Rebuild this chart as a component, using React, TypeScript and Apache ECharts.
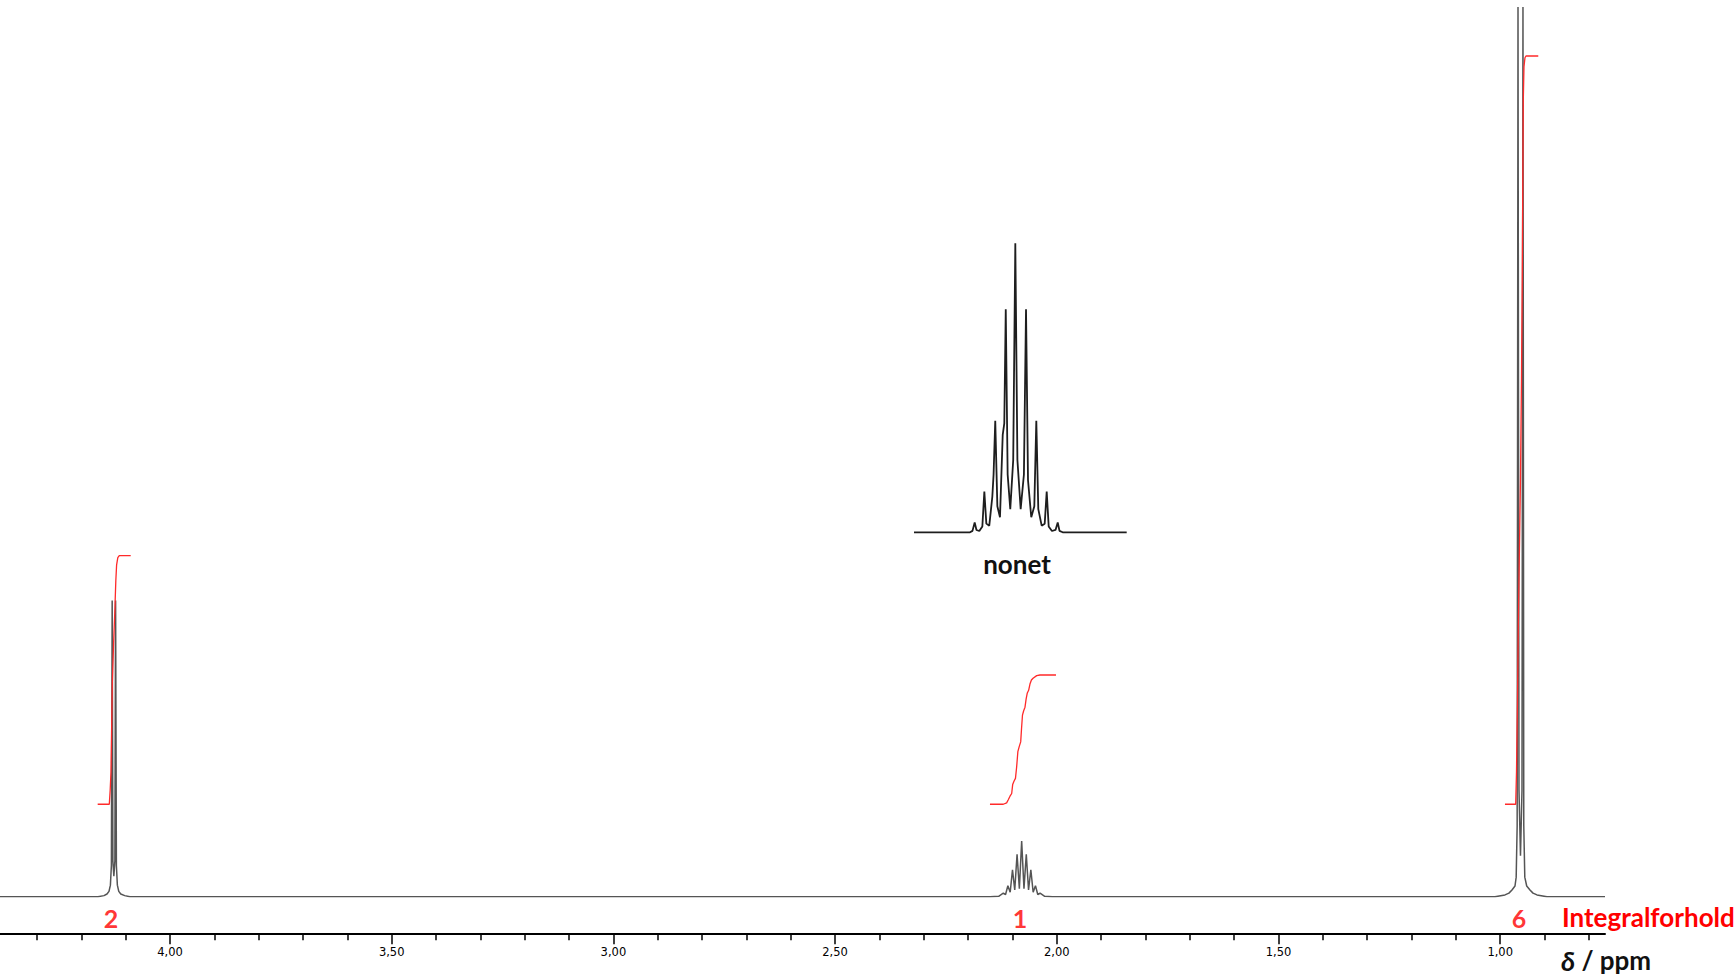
import React, { useEffect, useRef } from "react";
import * as echarts from "echarts";

// ---- axis ----
const ppmMin = 0.7636;
const ppmMax = 4.3834;
const majorTicks = [4.0, 3.5, 3.0, 2.5, 2.0, 1.5, 1.0];
const minorTicks = [
  4.3, 4.2, 4.1, 3.9, 3.8, 3.7, 3.6, 3.4, 3.3, 3.2, 3.1, 2.9, 2.8, 2.7, 2.6,
  2.4, 2.3, 2.2, 2.1, 1.9, 1.8, 1.7, 1.6, 1.4, 1.3, 1.2, 1.1, 0.9, 0.8,
];

// ---- main 1H spectrum (ppm, intensity) ----
const spectrum: [number, number][] = [
  [4.3834, 0],
  // OCH2 doublet
  [4.1624, 0],
  [4.1489, 0.12],
  [4.1421, 0.3],
  [4.1376, 0.6],
  [4.1344, 1.3],
  [4.1322, 3.5],
  [4.1304, 33.3],
  [4.1288, 4],
  [4.1266, 2.3],
  [4.1243, 4],
  [4.1227, 33.3],
  [4.1209, 3.5],
  [4.1187, 1.3],
  [4.1155, 0.6],
  [4.111, 0.3],
  [4.1021, 0.12],
  [4.0904, 0],
  // CH nonet
  [2.15, 0],
  [2.1311, 0.05],
  [2.1207, 0.39],
  [2.1155, 0.25],
  [2.1103, 1.24],
  [2.1051, 0.5],
  [2.0999, 3.03],
  [2.0948, 0.75],
  [2.0896, 4.77],
  [2.0844, 0.9],
  [2.0792, 6.26],
  [2.074, 0.9],
  [2.0688, 4.77],
  [2.0637, 0.75],
  [2.0585, 3.03],
  [2.0533, 0.5],
  [2.0481, 1.24],
  [2.0429, 0.25],
  [2.0377, 0.39],
  [2.0273, 0.05],
  [2.01, 0],
  // CH3 doublet
  [1.0117, 0],
  [0.9892, 0.2],
  [0.9802, 0.4],
  [0.9734, 0.75],
  [0.9666, 1.2],
  [0.9639, 2.2],
  [0.9617, 8],
  [0.9598, 100],
  [0.9576, 12],
  [0.9542, 4.6],
  [0.9508, 12],
  [0.9486, 100],
  [0.9468, 8],
  [0.9445, 2.2],
  [0.9402, 1.2],
  [0.9328, 0.75],
  [0.926, 0.4],
  [0.917, 0.2],
  [0.8945, 0],
  [0.7636, 0],
];

// ---- integral curves ----
const integralA: [number, number][] = [
  [4.1631, 10.39],
  [4.1369, 10.39],
  [4.1349, 12],
  [4.1331, 14],
  [4.1301, 24.0],
  [4.1272, 28.5],
  [4.1245, 32],
  [4.1222, 35.5],
  [4.1204, 37.3],
  [4.1177, 38.1],
  [4.1144, 38.33],
  [4.0886, 38.33],
];
const integralB: [number, number][] = [
  [2.1507, 10.39],
  [2.1207, 10.39],
  [2.1131, 10.55],
  [2.1094, 10.9],
  [2.1055, 11.3],
  [2.1017, 11.6],
  [2.0995, 12.6],
  [2.0963, 13.0],
  [2.0932, 13.3],
  [2.0905, 14.6],
  [2.0878, 16.3],
  [2.0846, 16.9],
  [2.0814, 17.4],
  [2.0795, 18.9],
  [2.0774, 20.4],
  [2.0747, 20.9],
  [2.0717, 21.3],
  [2.0692, 22.2],
  [2.0665, 22.9],
  [2.0635, 23.2],
  [2.0605, 23.9],
  [2.0572, 24.35],
  [2.0535, 24.55],
  [2.0453, 24.85],
  [2.0379, 24.92],
  [2.0018, 24.92],
];
const integralC: [number, number][] = [
  [0.9892, 10.39],
  [0.965, 10.39],
  [0.9632, 14],
  [0.961, 22],
  [0.9592, 30],
  [0.9569, 38],
  [0.9542, 47],
  [0.952, 58],
  [0.9502, 70],
  [0.9488, 82],
  [0.9479, 89.5],
  [0.9463, 93.3],
  [0.9441, 94.3],
  [0.9418, 94.49],
  [0.9141, 94.49],
];

// integral ratio labels
const integralValues = ["2", "1", "6"];
const integralLabelPpm = [4.1331, 2.083, 0.9576];
const integralLabelLevel = -2.39;

// ---- inset: expanded nonet (ppm, relative intensity) ----
const insetMin = 1.9731;
const insetMax = 2.1757;
const nonetInset: [number, number][] = [
  [2.1757, 0],
  [2.1223, 0],
  [2.12, 0.5],
  [2.1179, 3.4],
  [2.1162, 0.8],
  [2.1135, 0.45],
  [2.1106, 2],
  [2.1087, 14.1],
  [2.1068, 3],
  [2.104, 2.3],
  [2.1011, 12.3],
  [2.0999, 20],
  [2.0983, 38.6],
  [2.0963, 9],
  [2.0938, 5.2],
  [2.0912, 33.7],
  [2.0897, 37.7],
  [2.0883, 77.2],
  [2.0865, 20],
  [2.084, 8],
  [2.0812, 25],
  [2.0792, 100],
  [2.0772, 25],
  [2.0741, 8],
  [2.071, 20],
  [2.069, 77.2],
  [2.0671, 18],
  [2.064, 5.2],
  [2.0611, 9],
  [2.0592, 38.6],
  [2.0573, 8],
  [2.0541, 2.3],
  [2.0512, 3],
  [2.0493, 14.1],
  [2.0474, 2],
  [2.0443, 0.45],
  [2.0409, 0.8],
  [2.0388, 3.4],
  [2.0371, 0.5],
  [2.0341, 0],
  [1.9731, 0],
];

const RED = "#ff2a2a";
const LABEL_RED = "#ff0000";

export default function App() {
  const ref = useRef<HTMLDivElement>(null);
  useEffect(() => {
    if (!ref.current) return;
    const chart = echarts.init(ref.current, undefined, { renderer: "svg" });
    const fmt = (v: number) => v.toFixed(2).replace(".", ",");
    const axisOffset = 36.6;
    chart.setOption({
      animation: false,
      backgroundColor: "#ffffff",
      grid: [
        { left: 0, right: 130, top: 7, bottom: 82.3, containLabel: false },
        { left: 914, width: 212.7, top: 243.3, bottom: 446.7, containLabel: false },
      ],
      xAxis: [
        {
          gridIndex: 0,
          type: "value",
          inverse: true,
          min: ppmMin,
          max: ppmMax,
          position: "bottom",
          offset: axisOffset,
          axisLine: { show: true, onZero: false, lineStyle: { color: "#000", width: 2 } },
          axisTick: {
            show: true,
            length: 11,
            customValues: majorTicks,
            lineStyle: { color: "#000", width: 1.5 },
          },
          axisLabel: {
            show: true,
            customValues: majorTicks,
            formatter: fmt,
            fontFamily: "DejaVu Sans",
            fontSize: 11.5,
            color: "#000",
            margin: 13,
          },
          splitLine: { show: false },
        },
        {
          gridIndex: 0,
          type: "value",
          inverse: true,
          min: ppmMin,
          max: ppmMax,
          position: "bottom",
          offset: axisOffset,
          axisLine: { show: false, onZero: false },
          axisTick: {
            show: true,
            length: 7,
            customValues: minorTicks,
            lineStyle: { color: "#000", width: 1.5 },
          },
          axisLabel: { show: false },
          splitLine: { show: false },
        },
        {
          gridIndex: 1,
          type: "value",
          inverse: true,
          min: insetMin,
          max: insetMax,
          show: false,
        },
      ],
      yAxis: [
        { gridIndex: 0, type: "value", min: 0, max: 100, show: false },
        { gridIndex: 1, type: "value", min: 0, max: 100, show: false },
      ],
      series: [
        {
          type: "line",
          xAxisIndex: 0,
          yAxisIndex: 0,
          data: spectrum,
          symbol: "none",
          lineStyle: { color: "#555555", width: 1.5 },
          clip: true,
          z: 2,
        },
        ...[integralA, integralB, integralC].map((d) => ({
          type: "line",
          xAxisIndex: 0,
          yAxisIndex: 0,
          data: d,
          symbol: "none",
          smooth: false,
          lineStyle: { color: RED, width: 1.3 },
          clip: false,
          z: 3,
        })),
        {
          type: "scatter",
          xAxisIndex: 0,
          yAxisIndex: 0,
          clip: false,
          symbolSize: 0,
          data: integralValues.map((v, i) => ({
            value: [integralLabelPpm[i], integralLabelLevel],
            name: v,
          })),
          label: {
            show: true,
            position: "inside",
            formatter: (p: any) => p.name,
            color: LABEL_RED,
            fontFamily: "Lato",
            fontWeight: "bold",
            fontSize: 25,
          },
          z: 4,
        },
        {
          type: "line",
          xAxisIndex: 2,
          yAxisIndex: 1,
          data: nonetInset,
          symbol: "none",
          lineStyle: { color: "#1e1e1e", width: 1.8 },
          clip: false,
          z: 2,
        },
      ],
      graphic: [
        {
          type: "text",
          x: 1017,
          y: 564,
          style: {
            text: "nonet",
            fill: "#111",
            font: "bold 26px Lato",
            align: "center",
            verticalAlign: "middle",
          },
        },
        {
          type: "text",
          x: 1562,
          y: 917,
          style: {
            text: "Integralforhold",
            fill: LABEL_RED,
            font: "bold 26px Lato",
            verticalAlign: "middle",
            align: "left",
          },
        },
        {
          type: "text",
          x: 1561,
          y: 960,
          style: {
            text: "{d|δ}{p| / ppm}",
            verticalAlign: "middle",
            align: "left",
            rich: {
              d: { fontFamily: "Lato", fontStyle: "italic", fontWeight: "bold", fontSize: 27, fill: "#111" },
              p: { fontFamily: "Lato", fontWeight: "bold", fontSize: 26, fill: "#111" },
            },
          },
        },
      ],
    });
    return () => chart.dispose();
  }, []);
  return (
    <div
      ref={ref}
      style={{ position: "absolute", left: 0, top: 0, width: 1735, height: 979, background: "#fff" }}
    />
  );
}
